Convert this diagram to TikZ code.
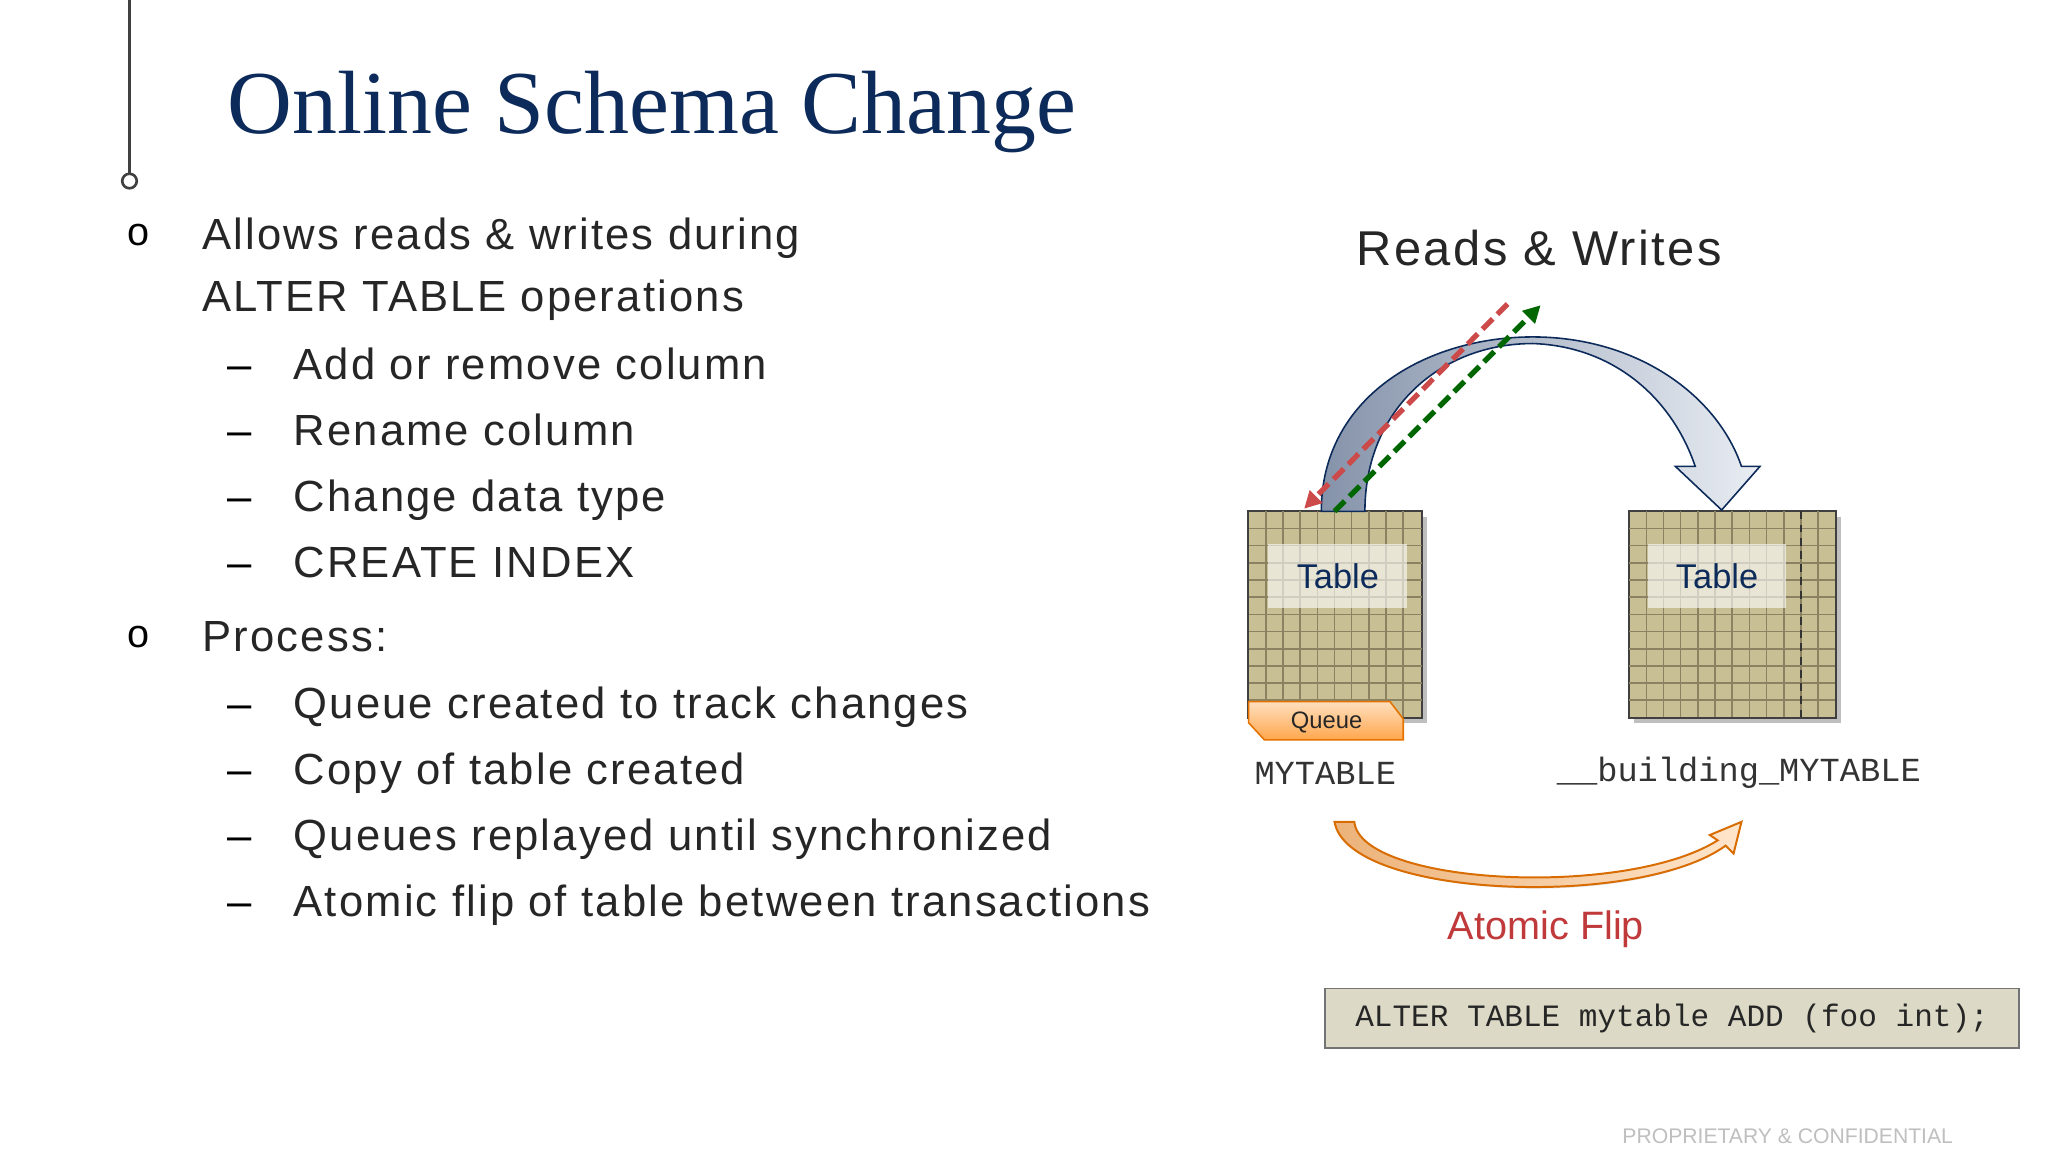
\documentclass[tikz,border=0pt]{standalone}
\usepackage{fontspec}
\usetikzlibrary{arrows.meta}
\setmainfont{Liberation Sans}
\newfontfamily\titlefont{Liberation Serif}
\newfontfamily\codefont{Liberation Mono}
\newfontfamily\widefont[LetterSpace=5]{Liberation Sans}
\begin{document}
\begin{tikzpicture}[x=1pt,y=-1pt,
  body/.style={anchor=base west,inner sep=0pt,font=\widefont\fontsize{33}{33}\selectfont,text=black!85},
  dashitem/.style={anchor=base west,inner sep=0pt,font=\fontsize{33}{33}\selectfont},
  tbl/.style={fill=tabfill,draw=black!75,line width=1pt},
  tlabel/.style={fill=white,fill opacity=0.6,text opacity=1,text=titleblue,font=\fontsize{26}{26}\selectfont,minimum width=105pt,minimum height=48pt,inner sep=0pt},
  mono/.style={font=\codefont\fontsize{25.5}{25.5}\selectfont,text=black!80,inner sep=0pt}]
\definecolor{titleblue}{HTML}{0D2B5A}
\definecolor{tabfill}{HTML}{C9BF94}
\definecolor{gridc}{HTML}{8C8262}
\definecolor{flipred}{HTML}{C0393B}
\definecolor{codefill}{HTML}{DCDAC6}
\definecolor{arrdark}{HTML}{8593AA}
\definecolor{arrlight}{HTML}{E9EDF3}
\definecolor{dred}{HTML}{CC4A4A}
\useasboundingbox (0,0) rectangle (1550,872);
\fill[white] (0,0) rectangle (1550,872);
% top-left decoration
\draw[black!75,line width=2pt] (98,0) -- (98,131);
\draw[black!75,line width=2pt,fill=white] (98,137) circle (5.5);
% title
\node[anchor=base west,inner sep=0pt,text=titleblue,font=\titlefont\fontsize{68}{68}\selectfont] (title) at (172,101) {Online Schema Change};
% bullets
\node[anchor=center,font=\fontsize{30}{30}\selectfont] (b1) at (105,178) {o};
\node[body] (t1) at (153,189) {Allows reads \& writes during};
\node[body] (t2) at (153,236) {ALTER TABLE operations};
\foreach \y/\t [count=\i] in {287/Add or remove column,337/Rename column,387/Change data type,437/CREATE INDEX}{
  \node[dashitem] (d\i) at (172,\y) {--};
  \node[body] (s\i) at (222,\y) {\t};
}
\node[anchor=center,font=\fontsize{30}{30}\selectfont] (b2) at (105,482) {o};
\node[body] (t3) at (153,493) {Process:};
\foreach \y/\t [count=\i] in {544/Queue created to track changes,594/Copy of table created,644/Queues replayed until synchronized,694/Atomic flip of table between transactions}{
  \node[dashitem] (p\i) at (172,\y) {--};
  \node[body] (q\i) at (222,\y) {\t};
}
% Reads & Writes
\node[font=\widefont\fontsize{37}{37}\selectfont,text=black!85] (rw) at (1165,188) {Reads \& Writes};
% tables
\fill[black!25] (949,391) rectangle (1080,547);
\fill[black!25] (1237,391) rectangle (1393,547);
\node[tbl,minimum width=131pt,minimum height=156pt,inner sep=0pt] (lt) at (1010.5,465) {};
\node[tbl,minimum width=156pt,minimum height=156pt,inner sep=0pt] (rt) at (1311,465) {};
\foreach \k in {1,...,9}{\draw[gridc,line width=1.2pt] (945+13*\k,387) -- (945+13*\k,543);}
\foreach \k in {1,...,11}{\draw[gridc,line width=1.2pt] (945,387+13*\k) -- (1076,387+13*\k);}
\foreach \k in {1,...,11}{\draw[gridc,line width=1.2pt] (1233+13*\k,387) -- (1233+13*\k,543);}
\foreach \k in {1,...,11}{\draw[gridc,line width=1.2pt] (1233,387+13*\k) -- (1389,387+13*\k);}
\draw[black!75,line width=1pt] (lt.north west) rectangle (lt.south east);
\draw[black!75,line width=1pt] (rt.north west) rectangle (rt.south east);
\draw[black!80,line width=1.3pt,dash pattern=on 6pt off 4pt] (1363,387) -- (1363,543);
\node[tlabel] (ltl) at (1012.5,436) {Table};
\node[tlabel] (rtl) at (1299.5,436) {Table};
% queue
\shade[top color=orange!25,bottom color=orange!70,draw=orange!90!black,line width=1.2pt]
  (945,531) -- (1052,531) -- (1062,544) -- (1062,560) -- (957,560) -- (945,547) -- cycle;
\node[font=\fontsize{18}{18}\selectfont,text=black!85] (queue) at (1004,547) {Queue};
% names
\node[mono] (mt) at (1003,585) {MYTABLE};
\node[mono] (bmt) at (1316,585) {\_\_building\_MYTABLE};
% blue arrow
\shade[left color=arrdark,right color=arrlight,draw=titleblue,line width=1.2pt]
  (1000,387) .. controls (1000,300) and (1080,255) .. (1160,255)
  .. controls (1240,255) and (1300,300) .. (1318,353) -- (1332,353) -- (1303,386) -- (1268,353) -- (1283,353)
  .. controls (1265,300) and (1220,262) .. (1160,260)
  .. controls (1090,260) and (1033,310) .. (1033,387) -- cycle;
% dashed arrows
\coordinate (rs) at (1141,230);
\coordinate (re) at (987,385);
\coordinate (gs) at (1010,387);
\coordinate (ge) at (1166,231);
\draw[dred,line width=4pt,dash pattern=on 11pt off 5pt,-{Triangle[length=13pt,width=13pt]}] (rs) -- (re);
\draw[green!40!black,line width=4pt,dash pattern=on 11pt off 5pt,-{Triangle[length=13pt,width=13pt]}] (gs) -- (ge);
% atomic flip arrow
\fill[black!10] (1012,626) .. controls (1030,680) and (1240,690) .. (1306,640) -- (1300,640) .. controls (1240,684) and (1040,676) .. (1025,626) -- cycle;
\shade[left color=orange!50!brown!60,right color=orange!20,draw=orange!85!black,line width=1.5pt]
  (1010,622) -- (1025,622) .. controls (1030,670) and (1230,680) .. (1300,636)
  -- (1294,632) -- (1318,622) -- (1312,646) -- (1306,640)
  .. controls (1240,688) and (1020,680) .. (1010,622) -- cycle;
\node[font=\fontsize{30}{30}\selectfont,text=flipred] (af) at (1170,703) {Atomic Flip};
% code box
\node[draw=black!55,line width=1.2pt,fill=codefill,minimum width=525pt,minimum height=45pt,inner sep=0pt,font=\codefont\fontsize{23.5}{23.5}\selectfont,text=black!85] (code) at (1265.5,770.5) {ALTER TABLE mytable ADD (foo int);};
% footer
\node[font=\fontsize{16}{16}\selectfont,text=black!25] (foot) at (1353,860) {PROPRIETARY \& CONFIDENTIAL};
\end{tikzpicture}
\end{document}
